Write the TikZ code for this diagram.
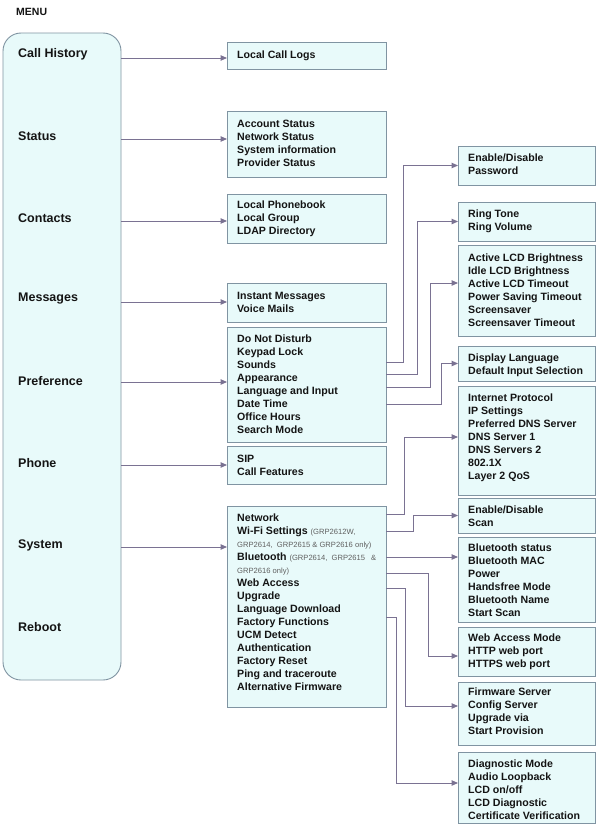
\documentclass[tikz,border=0pt]{standalone}
\usepackage{fontspec}
\setmainfont{Liberation Sans}
\usetikzlibrary{arrows.meta}
\definecolor{boxfill}{RGB}{232,250,250}
\definecolor{boxline}{RGB}{128,148,162}
\definecolor{conn}{RGB}{122,114,146}
\definecolor{txtc}{RGB}{20,20,20}
\definecolor{smallc}{RGB}{95,95,95}
\newcommand{\smtxt}[1]{{\mdseries\fontsize{7.6}{13}\selectfont\color{smallc}#1}}
\tikzset{
  box/.style={draw=boxline, fill=boxfill, line width=0.9pt, inner sep=0, outer sep=0, anchor=north west},
  menubox/.style={box, rounded corners=18pt},
  txt/.style={anchor=north west, inner sep=0, align=left, text=txtc, font=\bfseries\fontsize{10.6}{13}\selectfont},
  menulbl/.style={anchor=west, inner sep=0, text=txtc, font=\bfseries\fontsize{12.5}{15}\selectfont},
  title/.style={anchor=west, inner sep=0, text=txtc, font=\bfseries\fontsize{10.5}{13}\selectfont},
  arr/.style={draw=conn, line width=1pt, -{Triangle[length=6.5pt,width=5.5pt]}},
}
\begin{document}
\begin{tikzpicture}[x=1pt,y=-1pt]
\useasboundingbox (0,0) rectangle (599,827);
\fill[white] (0,0) rectangle (599,827);

\node[title] (menutitle) at (16,12) {MENU};

% menu column
\node[menubox, minimum width=118, minimum height=647] (menu) at (3,33) {};
\node[menulbl] (lcall) at (18,54) {Call History};
\node[menulbl] (lstatus) at (18,136) {Status};
\node[menulbl] (lcontacts) at (18,218) {Contacts};
\node[menulbl] (lmsg) at (18,299) {Messages};
\node[menulbl] (lpref) at (18,381) {Preference};
\node[menulbl] (lphone) at (18,463) {Phone};
\node[menulbl] (lsystem) at (18,545) {System};
\node[menulbl] (lreboot) at (18,627) {Reboot};

% middle boxes
\node[box, minimum width=159, minimum height=27] (calllogs) at (227,42) {};
\node[box, minimum width=159, minimum height=66] (status) at (227,111) {};
\node[box, minimum width=159, minimum height=49] (contacts) at (227,194) {};
\node[box, minimum width=159, minimum height=39] (messages) at (227,283) {};
\node[box, minimum width=159, minimum height=115] (preference) at (227,327) {};
\node[box, minimum width=159, minimum height=38] (phone) at (227,446) {};
\node[box, minimum width=159, minimum height=201] (system) at (227,506) {};

\node[txt] (tcalllogs) at (237,48.9) {\strut Local Call Logs};
\node[txt] (tstatus) at (237,117.9) {\strut Account Status\\Network Status\\System information\\Provider Status};
\node[txt] (tcontacts) at (237,198.9) {\strut Local Phonebook\\Local Group\\LDAP Directory};
\node[txt] (tmessages) at (237,289.9) {\strut Instant Messages\\Voice Mails};
\node[txt] (tpreference) at (237,332.9) {\strut Do Not Disturb\\Keypad Lock\\Sounds\\Appearance\\Language and Input\\Date Time\\Office Hours\\Search Mode};
\node[txt] (tphone) at (237,452.9) {\strut SIP\\Call Features};
\node[txt] (tsystem) at (237,511.9) {\strut Network\\
Wi-Fi Settings \smtxt{(GRP2612W,}\\
\smtxt{GRP2614,\ \ GRP2615 \&\ GRP2616 only)}\\
\makebox[139pt][s]{Bluetooth \smtxt{(GRP2614,\ \ GRP2615\ \ \ \&}}\\
\smtxt{GRP2616 only)}\\
Web Access\\Upgrade\\Language Download\\Factory Functions\\UCM Detect\\Authentication\\Factory Reset\\Ping and traceroute\\Alternative Firmware};

% right boxes
\node[box, minimum width=137, minimum height=39] (pwd) at (458,146) {};
\node[box, minimum width=137, minimum height=39] (ring) at (458,202) {};
\node[box, minimum width=137, minimum height=91] (lcd) at (458,245) {};
\node[box, minimum width=137, minimum height=35] (lang) at (458,346) {};
\node[box, minimum width=137, minimum height=109] (net) at (458,386) {};
\node[box, minimum width=137, minimum height=35] (scan) at (458,498) {};
\node[box, minimum width=137, minimum height=85] (bt) at (458,537) {};
\node[box, minimum width=137, minimum height=49] (web) at (458,627) {};
\node[box, minimum width=137, minimum height=63] (fw) at (458,682) {};
\node[box, minimum width=137, minimum height=71] (diag) at (458,752) {};

\node[txt] (tpwd) at (468,151.9) {\strut Enable/Disable\\Password};
\node[txt] (tring) at (468,207.9) {\strut Ring Tone\\Ring Volume};
\node[txt] (tlcd) at (468,251.9) {\strut Active LCD Brightness\\Idle LCD Brightness\\Active LCD Timeout\\Power Saving Timeout\\Screensaver\\Screensaver Timeout};
\node[txt] (tlang) at (468,351.9) {\strut Display Language\\Default Input Selection};
\node[txt] (tnet) at (468,391.9) {\strut Internet Protocol\\IP Settings\\Preferred DNS Server\\DNS Server 1\\DNS Servers 2\\802.1X\\Layer 2 QoS};
\node[txt] (tscan) at (468,503.9) {\strut Enable/Disable\\Scan};
\node[txt] (tbt) at (468,541.9) {\strut Bluetooth status\\Bluetooth MAC\\Power\\Handsfree Mode\\Bluetooth Name\\Start Scan};
\node[txt] (tweb) at (468,631.9) {\strut Web Access Mode\\HTTP web port\\HTTPS web port};
\node[txt] (tfw) at (468,685.9) {\strut Firmware Server\\Config Server\\Upgrade via\\Start Provision};
\node[txt] (tdiag) at (468,757.9) {\strut Diagnostic Mode\\Audio Loopback\\LCD on/off\\LCD Diagnostic\\Certificate Verification};

% menu connectors
\coordinate (m1) at (121,58);
\coordinate (m2) at (121,139);
\coordinate (m3) at (121,221);
\coordinate (m4) at (121,302);
\coordinate (m5) at (121,382);
\coordinate (m6) at (121,465);
\coordinate (m7) at (121,547);
\draw[arr] (m1) -- (calllogs.west |- m1);
\draw[arr] (m2) -- (status.west |- m2);
\draw[arr] (m3) -- (contacts.west |- m3);
\draw[arr] (m4) -- (messages.west |- m4);
\draw[arr] (m5) -- (preference.west |- m5);
\draw[arr] (m6) -- (phone.west |- m6);
\draw[arr] (m7) -- (system.west |- m7);

% preference connectors
\coordinate (p1) at (386,362);
\coordinate (p2) at (386,374);
\coordinate (p3) at (386,387);
\coordinate (p4) at (386,404);
\coordinate (lcdin) at (458,283);
\draw[arr] (p1) -- (403,362) |- (pwd.west);
\draw[arr] (p2) -- (417,374) |- (ring.west);
\draw[arr] (p3) -- (430,387) |- (lcdin);
\draw[arr] (p4) -- (441,404) |- (lang.west);

% system connectors
\coordinate (s1) at (386,514);
\coordinate (s2) at (386,531);
\coordinate (s3) at (386,557);
\coordinate (s4) at (386,573);
\coordinate (s5) at (386,588);
\coordinate (s6) at (386,617);
\coordinate (netin) at (458,437);
\coordinate (webin) at (458,656);
\coordinate (fwin) at (458,706);
\coordinate (diagin) at (458,783);
\draw[arr] (s1) -- (404,514) |- (netin);
\draw[arr] (s2) -- (413,531) |- (scan.west);
\draw[arr] (s3) -- (bt.west |- s3);
\draw[arr] (s4) -- (428,573) |- (webin);
\draw[arr] (s5) -- (405,588) |- (fwin);
\draw[arr] (s6) -- (396,617) |- (diagin);
\end{tikzpicture}
\end{document}
